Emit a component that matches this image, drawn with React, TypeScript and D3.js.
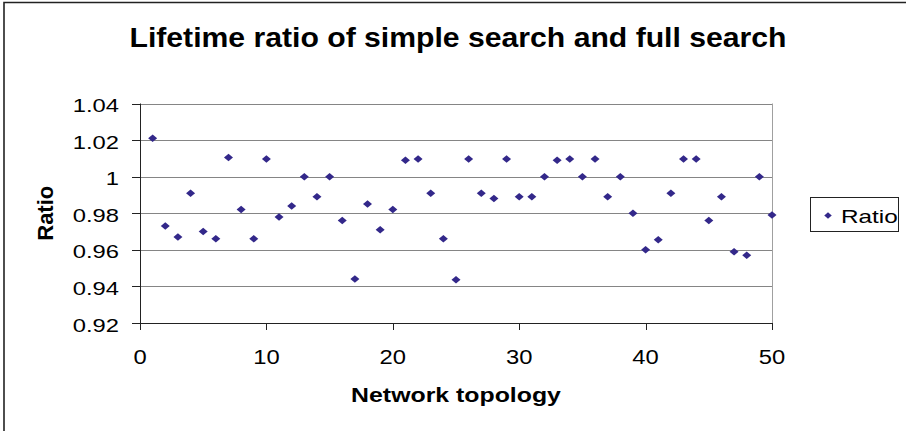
import React from "react";
import * as d3 from "d3";

const TITLE = "Lifetime ratio of simple search and full search";
const X_TITLE = "Network topology";
const Y_TITLE = "Ratio";
const SERIES_NAME = "Ratio";

const topology = [
  1, 2, 3, 4, 5, 6, 7, 8, 9, 10, 11, 12, 13, 14, 15, 16, 17, 18, 19, 20, 21, 22, 23, 24, 25,
  26, 27, 28, 29, 30, 31, 32, 33, 34, 35, 36, 37, 38, 39, 40, 41, 42, 43, 44, 45, 46, 47, 48, 49, 50,
];
const ratio = [
  1.021, 0.973, 0.967, 0.991, 0.970, 0.966, 1.0105, 0.982, 0.966, 1.0096,
  0.978, 0.984, 1.0, 0.989, 1.0, 0.976, 0.944, 0.985, 0.971, 0.982,
  1.009, 1.0096, 0.991, 0.966, 0.9437, 1.0096, 0.991, 0.988, 1.0096, 0.989,
  0.989, 1.0, 1.009, 1.0096, 1.0, 1.0096, 0.989, 1.0, 0.98, 0.96,
  0.9655, 0.991, 1.0096, 1.0096, 0.976, 0.989, 0.959, 0.957, 1.0, 0.979,
];
const xTicks = [0, 10, 20, 30, 40, 50];
const yTicks = [0.92, 0.94, 0.96, 0.98, 1.0, 1.02, 1.04];
const yTickLabels = ["0.92", "0.94", "0.96", "0.98", "1", "1.02", "1.04"];

const W = 906;
const H = 431;
const FONT = "'Liberation Sans', Arial, sans-serif";
const MARK = "#33288a";

const plot = { left: 140, right: 772, top: 103.5, bottom: 323 };

function SText(props: {
  x: number; y: number; sx?: number; anchor?: string; size: number; bold?: boolean; children: React.ReactNode;
}) {
  const { x, y, sx = 1.25, anchor = "middle", size, bold, children } = props;
  return (
    <text
      transform={`translate(${x},${y}) scale(${sx},1)`}
      textAnchor={anchor}
      fontFamily={FONT}
      fontSize={size}
      fontWeight={bold ? "bold" : "normal"}
      fill="#000"
    >
      {children}
    </text>
  );
}

function diamond(cx: number, cy: number, w: number, h: number) {
  return `M${cx},${cy - h / 2}L${cx + w / 2},${cy}L${cx},${cy + h / 2}L${cx - w / 2},${cy}Z`;
}

export default function App() {
  const x = d3.scaleLinear().domain([0, 50]).range([plot.left, plot.right]);
  const y = d3.scaleLinear().domain([0.92, 1.04]).range([plot.bottom, plot.top]);

  return (
    <svg
      width={W}
      height={H}
      style={{ position: "absolute", left: 0, top: 0, background: "#fff" }}
    >
      <rect x={0} y={0} width={W} height={H} fill="#fff" />
      {/* outer frame (cropped) */}
      <path d={`M4,${H + 5}V2.5H${W + 5}`} fill="none" stroke="#222" strokeWidth={1.6} />

      {/* title */}
      <text
        x={458}
        y={47}
        textAnchor="middle"
        fontFamily={FONT}
        fontSize={27}
        fontWeight="bold"
        textLength={657}
        lengthAdjust="spacingAndGlyphs"
      >
        {TITLE}
      </text>

      {/* gridlines */}
      {yTicks.map((t) => (
        <line
          key={"g" + t}
          x1={plot.left}
          x2={plot.right}
          y1={Math.round(y(t)) + 0.5}
          y2={Math.round(y(t)) + 0.5}
          stroke="#858585"
          strokeWidth={1}
        />
      ))}
      {/* plot right border */}
      <line x1={plot.right + 0.5} x2={plot.right + 0.5} y1={plot.top} y2={plot.bottom} stroke="#a0a0a0" />

      {/* axes */}
      <line x1={plot.left + 0.5} x2={plot.left + 0.5} y1={plot.top} y2={plot.bottom + 0.5} stroke="#222" />
      <line x1={plot.left} x2={plot.right + 1} y1={Math.round(plot.bottom) + 0.5} y2={Math.round(plot.bottom) + 0.5} stroke="#222" />
      {yTicks.map((t) => (
        <line
          key={"yt" + t}
          x1={plot.left - 8}
          x2={plot.left}
          y1={Math.round(y(t)) + 0.5}
          y2={Math.round(y(t)) + 0.5}
          stroke="#222"
        />
      ))}
      {xTicks.map((t) => (
        <line
          key={"xt" + t}
          x1={Math.round(x(t)) + 0.5}
          x2={Math.round(x(t)) + 0.5}
          y1={plot.bottom}
          y2={plot.bottom + 7}
          stroke="#222"
        />
      ))}

      {/* y tick labels */}
      {yTicks.map((t, i) => (
        <SText key={"yl" + t} x={119} y={y(t) + 8.5} anchor="end" size={19} sx={1.25}>
          {yTickLabels[i]}
        </SText>
      ))}
      {/* x tick labels */}
      {xTicks.map((t) => (
        <SText key={"xl" + t} x={x(t)} y={364} size={19.5} sx={1.22}>
          {String(t)}
        </SText>
      ))}

      {/* axis titles */}
      <SText x={(plot.left + plot.right) / 2} y={402} size={19.5} bold sx={1.275}>
        {X_TITLE}
      </SText>
      <text
        transform={`translate(53,${(plot.top + plot.bottom) / 2}) rotate(-90)`}
        textAnchor="middle"
        fontFamily={FONT}
        fontSize={22}
        fontWeight="bold"
      >
        {Y_TITLE}
      </text>

      {/* points */}
      {ratio.map((v, i) => (
        <path key={"p" + i} d={diamond(x(topology[i]), y(v), 9, 7.5)} fill={MARK} />
      ))}

      {/* legend */}
      <rect x={810.5} y={197.5} width={88} height={34} fill="#fff" stroke="#222" />
      <path d={diamond(828, 215.5, 7.5, 6.5)} fill={MARK} />
      <SText x={841} y={222.5} anchor="start" size={19} sx={1.28}>
        {SERIES_NAME}
      </SText>
    </svg>
  );
}
